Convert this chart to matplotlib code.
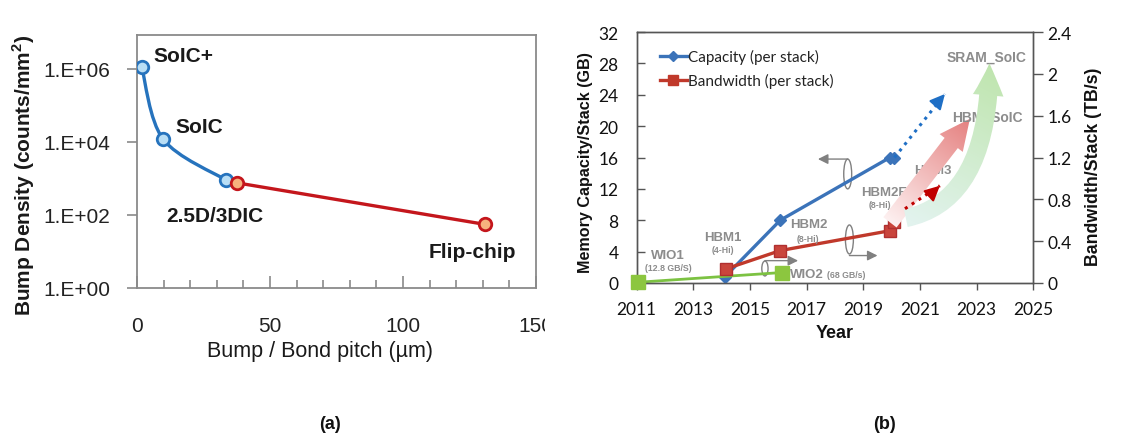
import numpy as np
import matplotlib
matplotlib.use('Agg')
import matplotlib.pyplot as plt
from matplotlib.path import Path
from matplotlib.patches import PathPatch, FancyArrowPatch, Ellipse
from matplotlib.colors import LinearSegmentedColormap
from matplotlib.lines import Line2D
from matplotlib.ticker import MultipleLocator, NullLocator
from matplotlib.transforms import Bbox

# ---------------- Panel (a) data ----------------
pitch_blue = [1.8, 9.8, 33.5]
density_blue = [1.1e6, 1.2e4, 9.0e2]
pitch_red = [37.5, 131.0]
density_red = [7.6e2, 55.0]
a_labels = ['SoIC+', 'SoIC', '2.5D/3DIC', 'Flip-chip']
a_xticks = [0, 50, 100, 150]
a_yticks = [1, 1e2, 1e4, 1e6]
a_yticklabels = ['1.E+00', '1.E+02', '1.E+04', '1.E+06']

# ---------------- Panel (b) data ----------------
cap_years = [2014.12, 2016.07, 2019.94, 2020.07]
cap_gb = [0.8, 8.0, 16.0, 16.0]
bw_years = [2014.14, 2016.07, 2019.94, 2020.07]
bw_tbs = [0.134, 0.31, 0.5, 0.58]
wio_years = [2011.05, 2016.12]
wio_tbs = [0.007, 0.10]
cap_proj_years = [2020.1, 2021.88]
cap_proj_gb = [16.0, 24.1]
bw_proj_years = [2020.47, 2021.7]
bw_proj_tbs = [0.71, 0.93]
hbm_soic_years = [2019.94, 2022.76]
hbm_soic_tbs = [0.58, 1.57]
sram_soic_years = [2020.5, 2023.45]
sram_soic_tbs = [0.62, 2.1]
b_xticks = list(range(2011, 2026, 2))
b_yticks_left = list(range(0, 33, 4))
b_yticks_right = [0, 0.4, 0.8, 1.2, 1.6, 2.0, 2.4]
b_yticklabels_right = ['0', '0.4', '0.8', '1.2', '1.6', '2', '2.4']

W, H = 1128, 439
fig = plt.figure(figsize=(W / 100, H / 100), dpi=100)
fig.patch.set_facecolor('white')


def fpos(x, y):
    return x / W, 1 - y / H


ARIAL = ['Liberation Sans', 'DejaVu Sans']
CALI = ['Lato', 'DejaVu Sans']

# =============== Panel (a) ===============
ax = fig.add_axes([137 / W, 1 - 289 / H, 399 / W, 253 / H])
ax.set_yscale('log')
ax.set_xlim(0, 150)
ax.set_ylim(1, 8.5e6)
ax.set_xticks(a_xticks)
ax.xaxis.set_minor_locator(MultipleLocator(10))
ax.set_yticks(a_yticks)
ax.set_yticklabels(a_yticklabels)
ax.yaxis.set_minor_locator(NullLocator())
sc = '#8a8a8a'
for s in ax.spines.values():
    s.set_color(sc)
    s.set_linewidth(1.3)
ax.tick_params(axis='x', which='major', direction='in', length=9, width=1.2, color=sc,
               pad=20, labelsize=15, labelcolor='#222222')
ax.tick_params(axis='x', which='minor', direction='in', length=6, width=1.2, color=sc)
ax.tick_params(axis='y', which='major', direction='out', length=7, width=1.2, color=sc,
               pad=12, labelsize=15, labelcolor='#222222')
for lab in ax.get_xticklabels() + ax.get_yticklabels():
    lab.set_family(ARIAL)
# clip the "150" label like the cropped reference
lab150 = ax.get_xticklabels()[-1]
lab150.set_clip_on(True)
lab150.set_clip_box(Bbox.from_extents(0, 0, 545, H))


def smooth_line(axh, xs, ys, color, lw):
    pts = axh.transData.transform(np.column_stack([xs, ys]))
    n = len(pts)
    verts = [pts[0]]
    codes = [Path.MOVETO]
    for i in range(n - 1):
        p0 = pts[i - 1] if i > 0 else pts[i]
        p1 = pts[i]
        p2 = pts[i + 1]
        p3 = pts[i + 2] if i + 2 < n else pts[i + 1]
        c1 = p1 + (p2 - p0) / 6.0
        c2 = p2 - (p3 - p1) / 6.0
        verts += [c1, c2, p2]
        codes += [Path.CURVE4] * 3
    verts = axh.transData.inverted().transform(np.array(verts))
    axh.add_patch(PathPatch(Path(verts, codes), facecolor='none', edgecolor=color,
                            lw=lw, transform=axh.transData, zorder=2, capstyle='round'))


blue_a = '#2673bd'
red_a = '#c4161c'
smooth_line(ax, pitch_blue, density_blue, blue_a, 2.4)
smooth_line(ax, pitch_red, density_red, red_a, 2.4)
ax.plot(pitch_blue, density_blue, 'o', ms=9, mfc='#b9def5', mec=blue_a, mew=2.0, zorder=3, ls='none')
ax.plot(pitch_red, density_red, 'o', ms=9, mfc='#f7b27e', mec=red_a, mew=2.0, zorder=3, ls='none')

a_label_pos = [(153, 57), (175, 128), (166, 217), (429, 253)]
for txt, (px, py) in zip(a_labels, a_label_pos):
    fig.text(*fpos(px, py), txt, ha='left', va='center', fontsize=15, fontweight='bold',
             family=ARIAL, color='#1a1a1a')

fig.text(*fpos(24, 175), 'Bump Density (counts/mm$^\\mathregular{2}$)', rotation=90, ha='center',
         va='center', fontsize=15, fontweight='bold', family=ARIAL, color='#1a1a1a')
fig.text(*fpos(320, 352), 'Bump / Bond pitch (µm)', ha='center', va='center', fontsize=15.5,
         family=ARIAL, color='#1a1a1a')

fig.text(*fpos(330, 425), '(a)', ha='center', va='center', fontsize=13, fontweight='bold',
         family=ARIAL, color='#111111')
fig.text(*fpos(885, 425), '(b)', ha='center', va='center', fontsize=13, fontweight='bold',
         family=ARIAL, color='#111111')

# =============== Panel (b) ===============
bx = fig.add_axes([636.5 / W, 1 - 284 / H, 396.9 / W, 251 / H])
bx2 = bx.twinx()
bx.set_xlim(2011, 2025)
bx.set_ylim(0, 32)
bx2.set_ylim(0, 2.4)
bx.set_xticks(b_xticks)
bx.set_yticks(b_yticks_left)
bx2.set_yticks(b_yticks_right)
bx2.set_yticklabels(b_yticklabels_right)
spc = '#555555'
for a_ in (bx, bx2):
    for s in a_.spines.values():
        s.set_color(spc)
        s.set_linewidth(1.0)
bx.tick_params(axis='x', direction='out', length=5, width=1, color=spc, pad=8, labelsize=12.5)
bx.tick_params(axis='y', direction='in', length=6, width=1, color=spc, pad=13, labelsize=12.5)
bx2.tick_params(axis='y', direction='out', length=7, width=1, color=spc, pad=3, labelsize=12.5)
for lab in bx.get_xticklabels() + bx.get_yticklabels() + bx2.get_yticklabels():
    lab.set_family(CALI)
    lab.set_color('#111111')

blue_b = '#3b73b9'
red_b = '#c0392b'
green_b = '#7cc242'

# capacity on left axis
bx.plot(cap_years, cap_gb, '-D', color=blue_b, lw=2.4, ms=6, zorder=3, clip_on=False)
bx.plot(cap_proj_years, cap_proj_gb, ':', color='#1f6fc5', lw=2.2, zorder=3)
bx.annotate('', xy=(cap_proj_years[1], cap_proj_gb[1]),
            xytext=(cap_proj_years[1] - 0.12, cap_proj_gb[1] - 0.5),
            arrowprops=dict(arrowstyle='-|>,head_length=0.9,head_width=0.45', color='#1f6fc5',
                            lw=1.5, shrinkA=0, shrinkB=0, mutation_scale=10), zorder=3)

# brackets (gray ellipses with arrows)
gray = '#808080'
for (cx, cy, w, h) in [(2018.45, 13.9, 0.28, 3.8), (2018.51, 5.55, 0.28, 3.7), (2015.53, 1.85, 0.22, 1.9)]:
    bx.add_patch(Ellipse((cx, cy), w, h, fill=False, edgecolor=gray, lw=1.0, zorder=2))
for (x0, y0, x1, y1) in [(2018.45, 15.8, 2017.4, 15.8), (2018.51, 3.5, 2019.5, 3.5),
                         (2015.53, 2.85, 2016.7, 2.85)]:
    bx.annotate('', xy=(x1, y1), xytext=(x0, y0),
                arrowprops=dict(arrowstyle='-|>,head_length=0.6,head_width=0.3', color=gray,
                                lw=1.0, shrinkA=0, shrinkB=0, mutation_scale=10), zorder=2)

# bandwidth on right axis
bx2.plot(wio_years, wio_tbs, '-', color=green_b, lw=2.0, zorder=2, clip_on=False)
bx2.plot(wio_years, wio_tbs, 's', color='#8cc63f', ms=10, zorder=3, clip_on=False)
bx2.plot(bw_years, bw_tbs, '-s', color=red_b, mfc='#c9453c', mec='#b03030', lw=2.4, ms=8.5,
         zorder=3, clip_on=False)
bx2.plot(bw_proj_years, bw_proj_tbs, ':', color='#c00000', lw=2.2, zorder=9)
bx2.annotate('', xy=(bw_proj_years[1], bw_proj_tbs[1]),
             xytext=(bw_proj_years[1] - 0.12, bw_proj_tbs[1] - 0.03),
             arrowprops=dict(arrowstyle='-|>,head_length=0.9,head_width=0.45', color='#c00000',
                             lw=1.5, shrinkA=0, shrinkB=0, mutation_scale=10), zorder=9)

# annotation texts (drawn inside the right axes so the big arrows can cover them)
tg = '#8c8c8c'
b_texts = [
    ('WIO1', 668, 256, 9.5, 'center', 5), ('(12.8 GB/S)', 668, 268.5, 6.3, 'center', 5),
    ('HBM1', 723, 238, 9.5, 'center', 5), ('(4-Hi)', 723, 251, 6.3, 'center', 5),
    ('HBM2', 809, 225, 9.5, 'center', 5), ('(8-Hi)', 808, 240, 6.3, 'center', 5),
    ('HBM2E', 884, 193, 9.5, 'center', 5), ('(8-Hi)', 880, 206, 6.3, 'center', 5),
    ('HBM3', 933, 171, 9.5, 'center', 5), ('HBM_SoIC', 987, 118, 10, 'center', 7),
    ('SRAM_SoIC', 987, 58, 10, 'center', 5),
    ('WIO2', 790, 274.5, 9.5, 'left', 5), ('(68 GB/s)', 827, 275.5, 6.3, 'left', 5),
]
for txt, px, py, fs, ha, z in b_texts:
    bx2.text(*fpos(px, py), txt, transform=fig.transFigure, ha=ha, va='center', fontsize=fs,
             fontweight='bold', family=ARIAL, color=tg, zorder=z, clip_on=False)


def gradient_arrow(axh, posA, posB, style, conn, c0, c1, z):
    arrow = FancyArrowPatch(posA, posB, arrowstyle=style, connectionstyle=conn,
                            mutation_scale=1, shrinkA=0, shrinkB=0, facecolor='none',
                            edgecolor='none', transform=axh.transData, zorder=z)
    axh.add_patch(arrow)
    x0, x1 = axh.get_xlim()
    y0, y1 = axh.get_ylim()
    nx, ny = 400, 250
    X, Y = np.meshgrid(np.linspace(x0, x1, nx), np.linspace(y0, y1, ny))
    D = axh.transData.transform(np.column_stack([X.ravel(), Y.ravel()]))
    A = axh.transData.transform(posA)
    B = axh.transData.transform(posB)
    v = B - A
    t = np.clip(((D - A) @ v) / (v @ v), 0, 1).reshape(ny, nx)
    cmap = LinearSegmentedColormap.from_list('grad', [c0, c1])
    im = axh.imshow(t, extent=[x0, x1, y0, y1], origin='lower', cmap=cmap, vmin=0, vmax=1,
                    aspect='auto', interpolation='bilinear', zorder=z)
    im.set_clip_path(arrow)
    axh.set_xlim(x0, x1)
    axh.set_ylim(y0, y1)


gradient_arrow(bx2, (sram_soic_years[0], sram_soic_tbs[0]), (sram_soic_years[1], sram_soic_tbs[1]),
               'simple,head_length=23,head_width=22,tail_width=13', 'angle3,angleA=12,angleB=90',
               '#e2f3ee', '#bfe5ae', 8)
gradient_arrow(bx2, (hbm_soic_years[0], hbm_soic_tbs[0]), (hbm_soic_years[1], hbm_soic_tbs[1]),
               'simple,head_length=22,head_width=21,tail_width=12', 'arc3,rad=0',
               '#fdf0f0', '#e5807f', 6)
bx2.set_zorder(bx.get_zorder() + 1)
bx2.patch.set_visible(False)

# legend
handles = [Line2D([], [], color=blue_b, lw=2.4, marker='D', ms=5),
           Line2D([], [], color=red_b, lw=2.4, marker='s', ms=7)]
leg = fig.legend(handles, ['Capacity (per stack)', 'Bandwidth (per stack)'], loc='upper left',
                 bbox_to_anchor=fpos(660, 50), frameon=False, prop={'family': CALI, 'size': 11},
                 handlelength=1.75, handletextpad=0.05, labelspacing=0.6, borderpad=0,
                 borderaxespad=0)
for t in leg.get_texts():
    t.set_color('#222222')

fig.text(*fpos(586, 163), 'Memory Capacity/Stack (GB)', rotation=90, ha='center', va='center',
         fontsize=11.6, fontweight='bold', family=ARIAL, color='#111111')
fig.text(*fpos(1094, 167), 'Bandwidth/Stack (TB/s)', rotation=90, ha='center', va='center',
         fontsize=12.8, fontweight='bold', family=ARIAL, color='#111111')
fig.text(*fpos(835, 333), 'Year', ha='center', va='center', fontsize=13, fontweight='bold',
         family=ARIAL, color='#111111')

fig.savefig('out.png', dpi=100, facecolor='white')
